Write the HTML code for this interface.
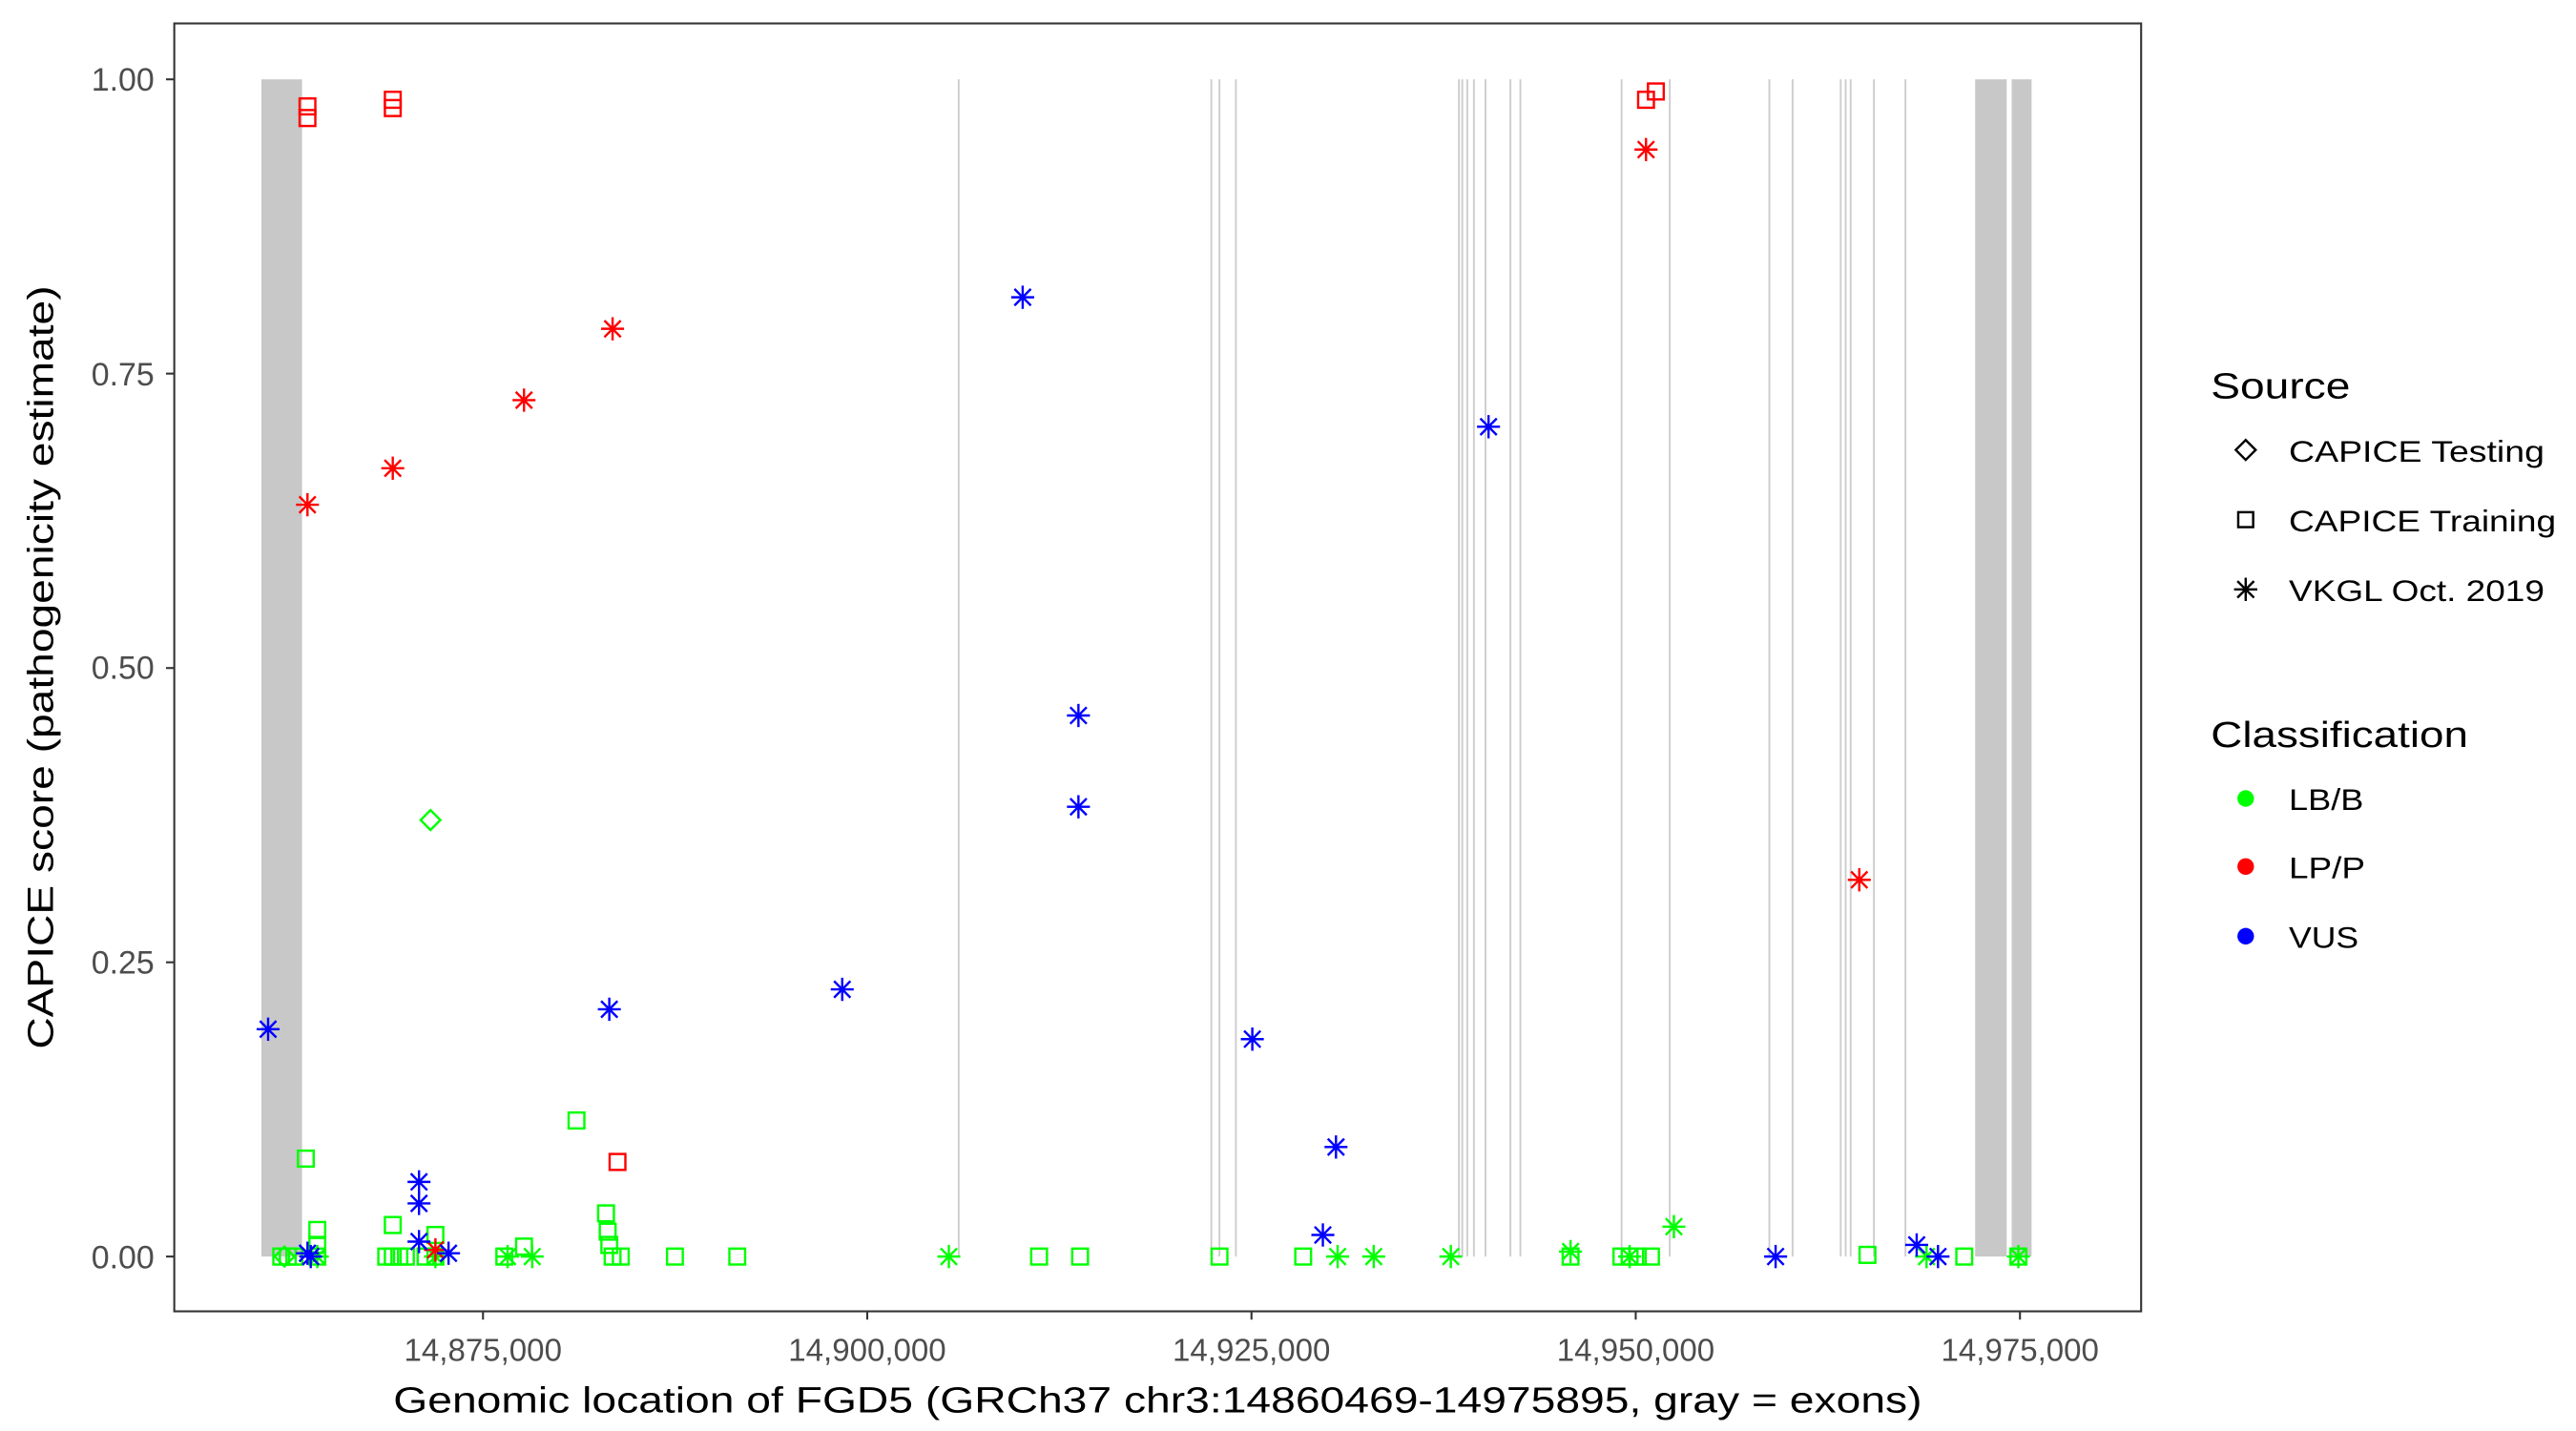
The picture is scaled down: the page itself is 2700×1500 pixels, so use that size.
<!DOCTYPE html>
<html><head><meta charset="utf-8"><style>html,body{margin:0;padding:0;background:#fff}svg{display:block}</style></head>
<body>
<svg xmlns="http://www.w3.org/2000/svg" width="2700" height="1500" viewBox="0 0 1552 862" font-family="Liberation Sans, sans-serif">
<defs>
<g id="sq"><rect x="-4.8" y="-4.8" width="9.6" height="9.6" fill="none" stroke-width="1.4"/></g>
<g id="st" stroke-width="1.4"><line x1="0" y1="-7" x2="0" y2="7"/><line x1="-7" y1="0" x2="7" y2="0"/><line x1="-5" y1="-5" x2="5" y2="5"/><line x1="-5" y1="5" x2="5" y2="-5"/></g>
<g id="di"><path d="M0,-6 L6,0 L0,6 L-6,0 Z" fill="none" stroke-width="1.4"/></g>
</defs>
<rect width="1552" height="862" fill="#fff"/>
<g fill="#c8c8c8">
<rect x="157.5" y="47.7" width="24.5" height="709.3"/>
<rect x="1190" y="47.7" width="19" height="709.3"/>
<rect x="1212" y="47.7" width="12" height="709.3"/>
</g>
<g stroke="#cdcdcd" stroke-width="1.1">
<line x1="577.6" y1="47.7" x2="577.6" y2="757"/>
<line x1="729.8" y1="47.7" x2="729.8" y2="757"/>
<line x1="734.7" y1="47.7" x2="734.7" y2="757"/>
<line x1="744.6" y1="47.7" x2="744.6" y2="757"/>
<line x1="879" y1="47.7" x2="879" y2="757"/>
<line x1="881" y1="47.7" x2="881" y2="757"/>
<line x1="884" y1="47.7" x2="884" y2="757"/>
<line x1="888" y1="47.7" x2="888" y2="757"/>
<line x1="895" y1="47.7" x2="895" y2="757"/>
<line x1="910" y1="47.7" x2="910" y2="757"/>
<line x1="916" y1="47.7" x2="916" y2="757"/>
<line x1="977" y1="47.7" x2="977" y2="757"/>
<line x1="1006" y1="47.7" x2="1006" y2="757"/>
<line x1="1066" y1="47.7" x2="1066" y2="757"/>
<line x1="1080" y1="47.7" x2="1080" y2="757"/>
<line x1="1109" y1="47.7" x2="1109" y2="757"/>
<line x1="1112" y1="47.7" x2="1112" y2="757"/>
<line x1="1115" y1="47.7" x2="1115" y2="757"/>
<line x1="1129" y1="47.7" x2="1129" y2="757"/>
<line x1="1148" y1="47.7" x2="1148" y2="757"/>
</g>
<g transform="translate(3.4,0) scale(0.9883,1)">
<g stroke="#00ff00">
<use href="#sq" x="183" y="698"/><use href="#sq" x="190" y="741"/><use href="#sq" x="190" y="750"/>
<use href="#sq" x="236" y="738"/><use href="#sq" x="262" y="744"/><use href="#sq" x="348" y="675"/>
<use href="#sq" x="366" y="731"/><use href="#sq" x="367" y="742"/><use href="#sq" x="368" y="750"/>
<use href="#sq" x="232" y="757"/><use href="#sq" x="236" y="757"/><use href="#sq" x="240" y="757"/><use href="#sq" x="244" y="757"/>
<use href="#sq" x="168" y="757"/><use href="#sq" x="172" y="757"/><use href="#sq" x="176" y="757"/><use href="#sq" x="190" y="757"/>
<use href="#sq" x="304" y="757"/><use href="#sq" x="316" y="751"/><use href="#sq" x="370" y="757"/><use href="#sq" x="375" y="757"/>
<use href="#sq" x="408" y="757"/><use href="#sq" x="446" y="757"/><use href="#sq" x="630" y="757"/><use href="#sq" x="655" y="757"/>
<use href="#sq" x="740" y="757"/><use href="#sq" x="791" y="757"/><use href="#sq" x="954" y="757"/><use href="#sq" x="985" y="757"/>
<use href="#sq" x="990" y="757"/><use href="#sq" x="995" y="757"/><use href="#sq" x="1003" y="757"/><use href="#sq" x="1135" y="756"/>
<use href="#sq" x="1194" y="757"/><use href="#sq" x="1227" y="757"/><use href="#sq" x="262" y="757"/><use href="#sq" x="256" y="757"/>
<use href="#di" x="259" y="494"/><use href="#di" x="170" y="757"/>
<use href="#st" x="575" y="757"/><use href="#st" x="306" y="757"/><use href="#st" x="321" y="757"/><use href="#st" x="812" y="757"/>
<use href="#st" x="834" y="757"/><use href="#st" x="881" y="757"/><use href="#st" x="954" y="754"/><use href="#st" x="1017" y="739"/>
<use href="#st" x="990" y="757"/><use href="#st" x="1171" y="757"/><use href="#st" x="1227" y="757"/><use href="#st" x="262" y="757"/>
<use href="#st" x="190" y="757"/>
</g>
<g stroke="#ff0000">
<use href="#sq" x="184" y="64"/><use href="#sq" x="184" y="71"/><use href="#sq" x="236" y="60"/><use href="#sq" x="236" y="65"/>
<use href="#sq" x="1000" y="60"/><use href="#sq" x="1006" y="55"/><use href="#sq" x="373" y="700"/>
<use href="#st" x="184" y="304"/><use href="#st" x="236" y="282"/><use href="#st" x="316" y="241"/><use href="#st" x="370" y="198"/>
<use href="#st" x="1000" y="90"/><use href="#st" x="1130" y="530"/><use href="#st" x="262" y="753"/>
</g>
<g stroke="#0000ff">
<use href="#st" x="160" y="620"/><use href="#st" x="252" y="712"/><use href="#st" x="252" y="725"/><use href="#st" x="252" y="748"/>
<use href="#st" x="184" y="755"/><use href="#st" x="270" y="755"/><use href="#st" x="368" y="608"/><use href="#st" x="510" y="596"/>
<use href="#st" x="620" y="179"/><use href="#st" x="654" y="431"/><use href="#st" x="654" y="486"/><use href="#st" x="760" y="626"/>
<use href="#st" x="811" y="691"/><use href="#st" x="803" y="744"/><use href="#st" x="904" y="257"/><use href="#st" x="1079" y="757"/>
<use href="#st" x="1165" y="750"/><use href="#st" x="1178" y="757"/><use href="#st" x="186" y="757"/>
</g>
</g>
<rect x="105" y="14" width="1185" height="776" fill="none" stroke="#333" stroke-width="1.2"/>
<g stroke="#333" stroke-width="1.2">
<line x1="100" y1="47.7" x2="105" y2="47.7"/><line x1="100" y1="225" x2="105" y2="225"/><line x1="100" y1="402.4" x2="105" y2="402.4"/><line x1="100" y1="579.7" x2="105" y2="579.7"/><line x1="100" y1="757" x2="105" y2="757"/>
<line x1="291" y1="790" x2="291" y2="795"/><line x1="522.5" y1="790" x2="522.5" y2="795"/><line x1="754" y1="790" x2="754" y2="795"/><line x1="985.5" y1="790" x2="985.5" y2="795"/><line x1="1217" y1="790" x2="1217" y2="795"/>
</g>
<g fill="#4d4d4d" font-size="19.5" text-anchor="end">
<text x="93" y="54.5">1.00</text><text x="93" y="232">0.75</text><text x="93" y="409">0.50</text><text x="93" y="586.5">0.25</text><text x="93" y="764">0.00</text>
</g>
<g fill="#4d4d4d" font-size="19" text-anchor="middle">
<text x="291" y="820">14,875,000</text><text x="522.5" y="820">14,900,000</text><text x="754" y="820">14,925,000</text><text x="985.5" y="820">14,950,000</text><text x="1217" y="820">14,975,000</text>
</g>
<text x="237" y="851" font-size="22" textLength="921" lengthAdjust="spacingAndGlyphs">Genomic location of FGD5 (GRCh37 chr3:14860469-14975895, gray = exons)</text>
<text transform="translate(32,632) rotate(-90)" font-size="22" textLength="460" lengthAdjust="spacingAndGlyphs">CAPICE score (pathogenicity estimate)</text>
<text x="1332" y="240" font-size="22" textLength="84" lengthAdjust="spacingAndGlyphs">Source</text>
<path d="M1353,265 L1359,271 L1353,277 L1347,271 Z" fill="none" stroke="#000" stroke-width="1.4"/>
<rect x="1348.5" y="308.5" width="9" height="9" fill="none" stroke="#000" stroke-width="1.4"/>
<use href="#st" x="1353" y="355" stroke="#000"/>
<g font-size="18">
<text x="1379" y="278" textLength="154" lengthAdjust="spacingAndGlyphs">CAPICE Testing</text>
<text x="1379" y="320" textLength="161" lengthAdjust="spacingAndGlyphs">CAPICE Training</text>
<text x="1379" y="362" textLength="154" lengthAdjust="spacingAndGlyphs">VKGL Oct. 2019</text>
</g>
<text x="1332" y="450" font-size="22" textLength="155" lengthAdjust="spacingAndGlyphs">Classification</text>
<circle cx="1353" cy="481" r="5" fill="#00ff00"/><circle cx="1353" cy="522" r="5" fill="#ff0000"/><circle cx="1353" cy="564" r="5" fill="#0000ff"/>
<g font-size="18">
<text x="1379" y="488" textLength="45" lengthAdjust="spacingAndGlyphs">LB/B</text>
<text x="1379" y="529" textLength="46" lengthAdjust="spacingAndGlyphs">LP/P</text>
<text x="1379" y="571" textLength="42" lengthAdjust="spacingAndGlyphs">VUS</text>
</g>
</svg>
</body></html>
